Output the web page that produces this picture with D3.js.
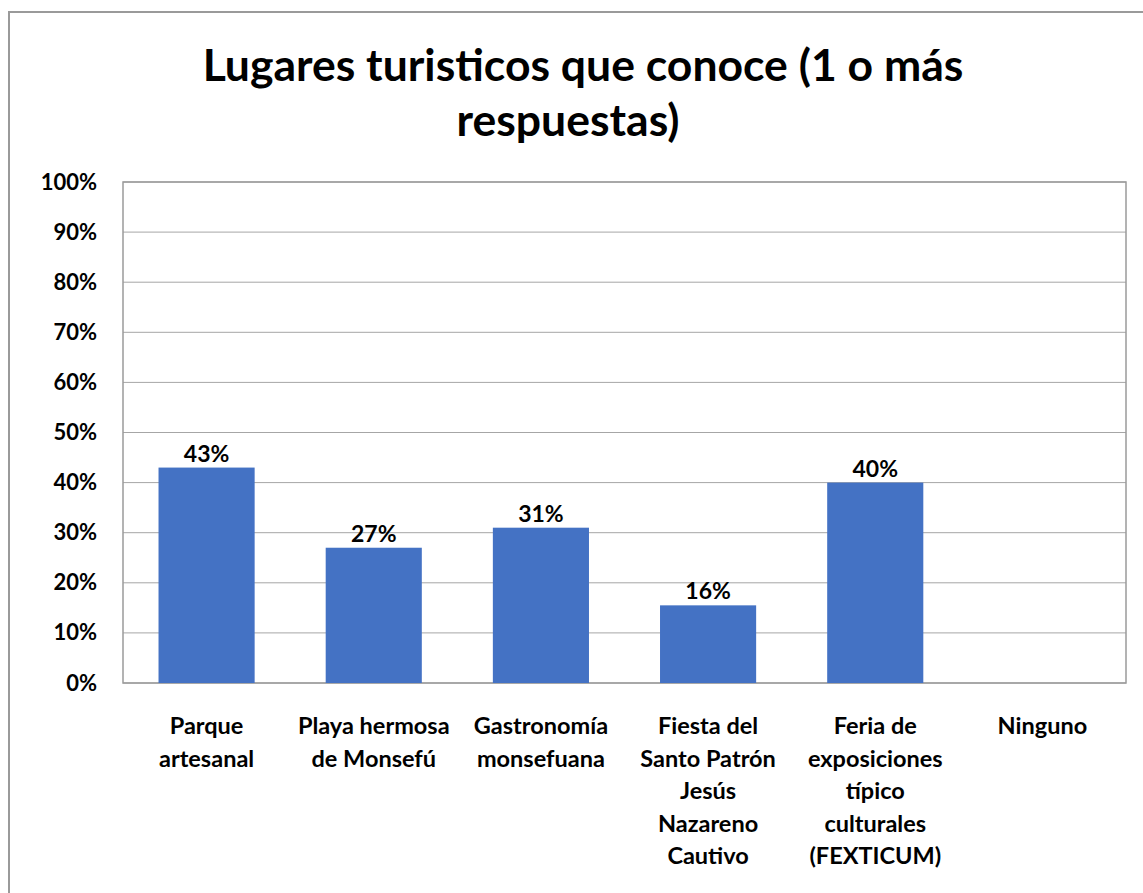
<!DOCTYPE html>
<html>
<head>
<meta charset="utf-8">
<script src="https://cdn.jsdelivr.net/npm/d3@7"></script>
<style>
  body { margin: 0; background: #fff; }
  svg text { font-family: Lato, "Open Sans", sans-serif; font-weight: bold; fill: #000; }
</style>
</head>
<body>
<script>
'use strict';

let WIDTH = 1143;
let HEIGHT = 893;

// chart data
let categories = [
    'Parque artesanal',
    'Playa hermosa de Monsefú',
    'Gastronomía monsefuana',
    'Fiesta del Santo Patrón Jesús Nazareno Cautivo',
    'Feria de exposiciones típico culturales (FEXTICUM)',
    'Ninguno'
];
// how Excel wrapped each category label
let categoryLines = [
    ['Parque', 'artesanal'],
    ['Playa hermosa', 'de Monsefú'],
    ['Gastronomía', 'monsefuana'],
    ['Fiesta del', 'Santo Patrón', 'Jesús', 'Nazareno', 'Cautivo'],
    ['Feria de', 'exposiciones', 'típico', 'culturales', '(FEXTICUM)'],
    ['Ninguno']
];
let values = [0.43, 0.27, 0.31, 0.155, 0.40, 0];
let yTicks = [0, 0.1, 0.2, 0.3, 0.4, 0.5, 0.6, 0.7, 0.8, 0.9, 1.0];
let titleLines = ['Lugares turisticos que conoce (1 o más', 'respuestas)'];

let plot = { left: 123, top: 182, right: 1126, bottom: 683 };

let svg = d3.select('body')
    .append('svg')
    .attr('width', WIDTH)
    .attr('height', HEIGHT);

svg.append('rect')
    .attr('width', WIDTH)
    .attr('height', HEIGHT)
    .attr('fill', '#fff');

// outer chart border (runs off the right/bottom of the picture)
svg.append('rect')
    .attr('x', 9)
    .attr('y', 12)
    .attr('width', WIDTH + 20)
    .attr('height', HEIGHT + 20)
    .attr('fill', 'none')
    .attr('stroke', '#9a9a9a')
    .attr('stroke-width', 2);

// title
svg.append('text')
    .attr('text-anchor', 'middle')
    .attr('font-size', 44.5)
    .selectAll('tspan')
    .data(titleLines)
    .enter()
    .append('tspan')
    .attr('x', (d, i) => i === 0 ? 583 : 568)
    .attr('y', (d, i) => 81 + i * 55)
    .text(d => d);

let x = d3.scaleBand()
    .domain(categories)
    .range([plot.left, plot.right])
    .paddingInner(0.425)
    .paddingOuter(0.2125);

let y = d3.scaleLinear()
    .domain([0, 1])
    .range([plot.bottom, plot.top]);

// gridlines
svg.append('g')
    .selectAll('line')
    .data(yTicks)
    .enter()
    .append('line')
    .attr('x1', plot.left)
    .attr('x2', plot.right)
    .attr('y1', d => y(d))
    .attr('y2', d => y(d))
    .attr('stroke', '#a6a6a6')
    .attr('stroke-width', 1);

// plot area border
svg.append('rect')
    .attr('x', plot.left)
    .attr('y', plot.top)
    .attr('width', plot.right - plot.left)
    .attr('height', plot.bottom - plot.top)
    .attr('fill', 'none')
    .attr('stroke', '#9a9a9a')
    .attr('stroke-width', 1.5);

// y axis labels
let yAxis = svg.append('g')
    .attr('transform', 'translate(' + plot.left + ',0)')
    .call(d3.axisLeft(y).tickValues(yTicks).tickFormat(d3.format('.0%')).tickSize(0).tickPadding(26));
yAxis.select('.domain').remove();
yAxis.selectAll('text')
    .attr('font-size', 22)
    .attr('font-family', 'Lato, "Open Sans", sans-serif')
    .attr('font-weight', 'bold')
    .attr('fill', '#000');

// bars
svg.append('g')
    .selectAll('rect')
    .data(values)
    .enter()
    .append('rect')
    .attr('x', (d, i) => x(categories[i]))
    .attr('y', d => y(d))
    .attr('width', x.bandwidth())
    .attr('height', d => y(0) - y(d))
    .attr('fill', '#4472c4');

// value labels
svg.append('g')
    .selectAll('text')
    .data(values.filter(v => v > 0))
    .enter()
    .append('text')
    .attr('text-anchor', 'middle')
    .attr('font-size', 23)
    .attr('x', (d) => x(categories[values.indexOf(d)]) + x.bandwidth() / 2)
    .attr('y', d => y(d) - 6)
    .text(d => Math.round(d * 100 + 1e-9) + '%');

// category labels
let catLabels = svg.append('g')
    .selectAll('text')
    .data(categories)
    .enter()
    .append('text')
    .attr('text-anchor', 'middle')
    .attr('font-size', 23.5);

catLabels.selectAll('tspan')
    .data((d, i) => categoryLines[i].map(line => ({ line: line, cat: d })))
    .enter()
    .append('tspan')
    .attr('x', d => x(d.cat) + x.bandwidth() / 2)
    .attr('y', (d, j) => 734 + j * 32.5)
    .text(d => d.line);
</script>
</body>
</html>
